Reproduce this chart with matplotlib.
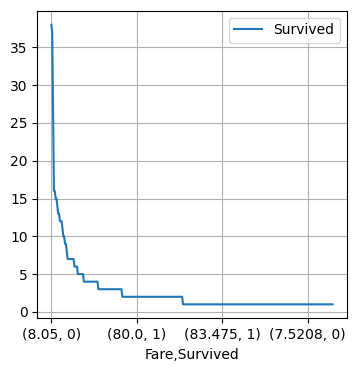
import numpy as np
import matplotlib
matplotlib.use('Agg')
import matplotlib.pyplot as plt

# value counts of (Fare, Survived), sorted descending
head_counts = [38, 37, 26, 16, 16, 15, 15, 14, 13, 13, 12, 12, 12, 11, 10, 10, 9, 9, 8]
# remaining counts as (value, how many pairs have it)
tail_levels = [7, 6, 5, 4, 3, 2, 1]
tail_sizes = [8, 4, 7, 17, 28, 71, 176]

tick_pos = [0, 100, 200, 300]
tick_labels = ['(8.05, 0)', '(80.0, 1)', '(83.475, 1)', '(7.5208, 0)']

counts = list(head_counts)
for v, n in zip(tail_levels, tail_sizes):
    counts += [v] * n
counts = np.array(counts)
x = np.arange(len(counts))

fig = plt.figure(figsize=(3.57, 3.71), dpi=100)
ax = fig.add_axes([0.1045, 0.142, 0.8665, 0.829])
ax.plot(x, counts, label='Survived')
ax.set_xticks(tick_pos)
ax.set_xticklabels(tick_labels)
ax.set_xlabel('Fare,Survived')
ax.grid(True)
ax.legend(loc='upper right')
fig.savefig('out.png')
